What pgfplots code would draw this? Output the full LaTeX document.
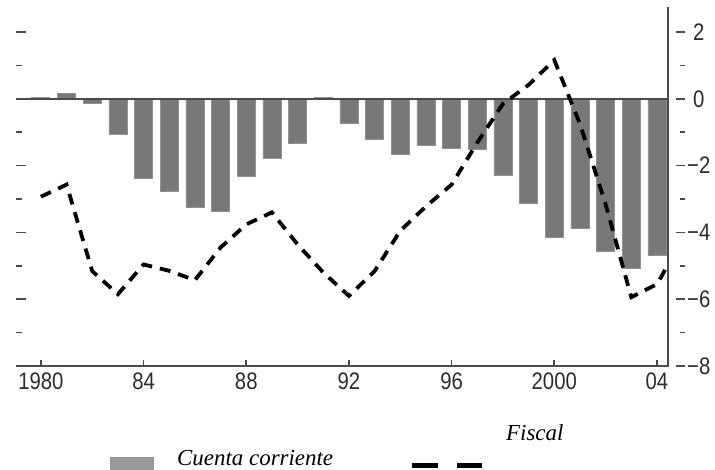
\documentclass[border=0pt]{standalone}
\usepackage{pgfplots}
\pgfplotsset{compat=1.18}
\usepackage{fontspec}
\setmainfont{Liberation Sans}
\newfontfamily\tickfont{Liberation Sans}[FakeStretch=0.85]
\newfontfamily\legfont{Liberation Serif}

\definecolor{bargray}{RGB}{120,120,120}
\definecolor{baredge}{RGB}{145,145,145}
\definecolor{axgray}{RGB}{75,75,75}
\definecolor{leggray}{RGB}{155,155,155}
\definecolor{labgray}{RGB}{45,45,45}

\pgfplotsset{
  frame/.style={
    at={(0,0)}, anchor=south west,
    scale only axis, width=652bp, height=359bp,
    xmin=1979.03, xmax=2004.43, ymin=-8, ymax=2.75,
    axis line style={draw=none},
    every tick/.style={axgray, line width=1.6bp},
  },
  tickfnt/.style={font=\tickfont\fontsize{24}{24}\selectfont, text=labgray},
}

\begin{document}
\begin{tikzpicture}
\useasboundingbox (-16bp,-104bp) rectangle (699bp,366bp);

% current account (bars) and fiscal balance (dashed)
\begin{axis}[frame, name=main,
  xtick={1980,1984,...,2004},
  xticklabels={1980,84,88,92,96,2000,04},
  minor x tick num=3,
  xtick pos=left, tick align=inside,
  major tick length=6bp, minor tick length=3.5bp,
  ytick=\empty,
  xticklabel style={tickfnt, inner sep=0pt, yshift=-7bp},
]
\addplot[ybar, bar width=18bp, fill=bargray, draw=baredge, line width=0.8bp]
  coordinates {
  (1980,0.05) (1981,0.15) (1982,-0.15) (1983,-1.07) (1984,-2.39)
  (1985,-2.78) (1986,-3.25) (1987,-3.37) (1988,-2.33) (1989,-1.79)
  (1990,-1.34) (1991,0.03) (1992,-0.75) (1993,-1.22) (1994,-1.65)
  (1995,-1.40) (1996,-1.47) (1997,-1.52) (1998,-2.30) (1999,-3.13)
  (2000,-4.15) (2001,-3.88) (2002,-4.57) (2003,-5.07) (2004,-4.69)
  };
\addplot[axgray, line width=1.8bp] coordinates {(1979.03,0) (2004.43,0)};
\addplot[black, line width=3.8bp, dash pattern=on 11bp off 8bp]
  coordinates {
  (1980,-2.93) (1981,-2.57) (1982,-5.16) (1983,-5.85) (1984,-4.96)
  (1985,-5.15) (1986,-5.43) (1987,-4.45) (1988,-3.76) (1989,-3.40)
  (1990,-4.36) (1991,-5.20) (1992,-5.90) (1993,-5.16) (1994,-3.95)
  (1995,-3.22) (1996,-2.57) (1997,-1.31) (1998,-0.15) (1999,0.42)
  (2000,1.16) (2001,-0.75) (2002,-3.16) (2003,-5.94) (2004,-5.55)
  (2005,-4.20)
  };
\end{axis}

% left ticks
\begin{axis}[frame,
  xtick=\empty,
  ytick={-6,-4,...,2}, minor ytick={-7,-5,...,1},
  ytick pos=left, tick align=inside,
  major tick length=10bp, minor tick length=6bp,
  yticklabel=\empty,
]
\end{axis}

% right ticks and labels
\begin{axis}[frame,
  xtick=\empty,
  ytick={-8,-6,...,2}, minor ytick={-7,-5,...,1},
  yticklabels={−8,−6,−4,−2,\hspace*{6bp}0,\hspace*{6bp}2},
  ytick pos=right, tick align=outside,
  major tick length=9bp, minor tick length=5bp,
  every major tick/.append style={xshift=8bp},
  every minor tick/.append style={xshift=12bp},
  yticklabel style={tickfnt, anchor=west, inner sep=0pt, xshift=10bp},
]
\end{axis}

\draw[axgray, line width=2.2bp] (main.south west) -- (main.south east) -- (main.north east);

% legend
\fill[leggray, draw=axgray!60, line width=0.6bp] (94bp,-91bp) rectangle (137bp,-120bp);
\node[anchor=base west, inner sep=0pt, font=\legfont\itshape\fontsize{23}{23}\selectfont]
  at (161bp,-99bp) {Cuenta corriente};
\draw[black, line width=5bp] (396bp,-99bp) -- (422bp,-99bp);
\draw[black, line width=5bp] (441bp,-99bp) -- (466bp,-99bp);
\node[anchor=base west, inner sep=0pt, font=\legfont\itshape\fontsize{23}{23}\selectfont]
  at (490bp,-74bp) {Fiscal};
\end{tikzpicture}
\end{document}
